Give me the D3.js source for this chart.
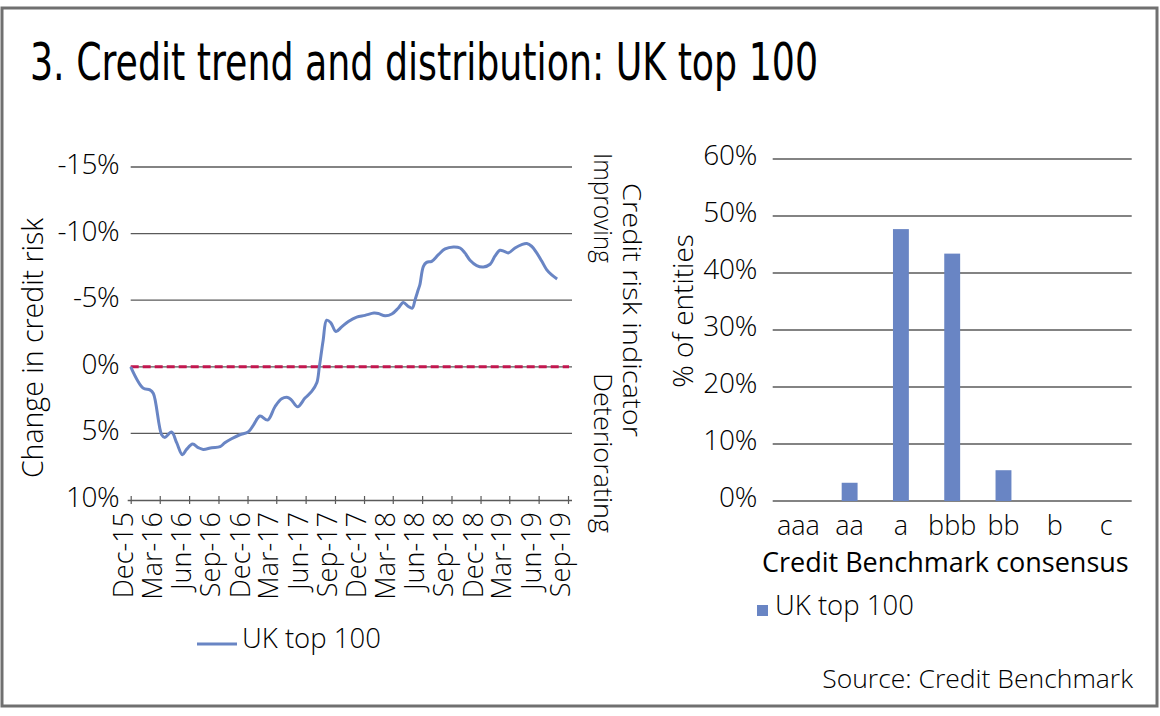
<!DOCTYPE html>
<html>
<head>
<meta charset="utf-8">
<script src="https://cdn.jsdelivr.net/npm/d3@7"></script>
<style>
  body { margin: 0; background: #fff; }
  svg { display: block; }
  text { font-family: "Open Sans", "Noto Sans", sans-serif; font-weight: 300; fill: #000; }
</style>
</head>
<body>
<svg id="chart" width="1160" height="716"></svg>
<script>
// ---------------- DATA ----------------
const trendDates = [
  "2015-12-01","2016-01-09","2016-01-30","2016-02-10","2016-03-07","2016-03-17","2016-04-07","2016-04-23",
  "2016-05-11","2016-05-24","2016-06-12","2016-06-30","2016-07-15","2016-08-11","2016-09-06","2016-09-21",
  "2016-10-12","2016-11-07","2016-12-03","2016-12-19","2017-01-09","2017-02-02","2017-02-25","2017-03-18",
  "2017-04-06","2017-04-18","2017-05-07","2017-05-30","2017-06-20","2017-07-06","2017-07-14","2017-07-26",
  "2017-08-06","2017-08-19","2017-09-04","2017-09-22","2017-10-13","2017-11-08","2017-12-04","2018-01-01",
  "2018-01-15","2018-02-05","2018-02-26","2018-03-18","2018-04-03","2018-04-19","2018-05-01","2018-05-10",
  "2018-05-20","2018-05-25","2018-06-05","2018-06-15","2018-07-01","2018-07-22","2018-08-12","2018-09-07",
  "2018-09-28","2018-10-13","2018-10-29","2018-11-19","2018-12-10","2018-12-31","2019-01-15","2019-01-31",
  "2019-02-13","2019-02-26","2019-03-19","2019-04-09","2019-04-25","2019-05-10","2019-05-26","2019-06-11",
  "2019-06-26","2019-07-12","2019-07-29"
];
// change in credit risk, % (positive = deteriorating)
const trendValues = [
  0, 1.6, 1.73, 2.0, 5.1, 5.3, 4.9, 5.7,
  6.6, 6.2, 5.8, 6.07, 6.2, 6.07, 6.0, 5.7,
  5.4, 5.1, 4.9, 4.4, 3.7, 4.0, 3.0, 2.4,
  2.3, 2.5, 3.0, 2.35, 1.85, 1.2, 0, -2.0,
  -3.5, -3.3, -2.65, -3.0, -3.4, -3.73, -3.86, -4.03,
  -4.0, -3.83, -3.96, -4.4, -4.83, -4.53, -4.4, -5.04,
  -5.8, -6.17, -7.54, -7.84, -7.92, -8.42, -8.85, -9.0,
  -8.92, -8.55, -8.0, -7.6, -7.5, -7.7, -8.3, -8.75,
  -8.67, -8.55, -8.92, -9.17, -9.25, -9.05, -8.55, -7.92,
  -7.3, -6.9, -6.6
];
const trendTickLabels = ["Dec-15","Mar-16","Jun-16","Sep-16","Dec-16","Mar-17","Jun-17","Sep-17",
  "Dec-17","Mar-18","Jun-18","Sep-18","Dec-18","Mar-19","Jun-19","Sep-19"];
const trendYTicks = [-15, -10, -5, 0, 5, 10];

const ratingCategories = ["aaa","aa","a","bbb","bb","b","c"];
const ratingShares = [0, 3.2, 47.7, 43.4, 5.4, 0, 0];
const shareYTicks = [0, 10, 20, 30, 40, 50, 60];

const seriesName = "UK top 100";
const titleText = "3. Credit trend and distribution: UK top 100";
const sourceText = "Source: Credit Benchmark";

// ---------------- STYLE ----------------
const blue = "#6985c4";
const gridColor = "#5a5a5a";
const zeroColor = "#c2174f";

const svg = d3.select("#chart");

// frame
svg.append("rect").attr("x", 2).attr("y", 8).attr("width", 1155).attr("height", 698)
  .attr("fill", "#fff").attr("stroke", "#707070").attr("stroke-width", 3);

// title
svg.append("text").attr("x", 30).attr("y", 80)
  .style("font-family", "'Liberation Sans Narrow','DejaVu Sans Condensed','Open Sans',sans-serif")
  .style("font-stretch", "condensed").style("font-weight", "400")
  .attr("font-size", 51).attr("fill", "#000")
  .attr("textLength", 788).attr("lengthAdjust", "spacingAndGlyphs")
  .text(titleText);

// ---------------- LEFT: LINE CHART ----------------
const parse = d3.timeParse("%Y-%m-%d");
const tickDates = d3.timeMonth.range(parse("2015-12-01"), parse("2019-09-02"), 3);
const xL = d3.scaleTime().domain([parse("2015-12-01"), parse("2019-09-01")]).range([130.7, 568]);
const yL = d3.scaleLinear().domain([-15, 10]).range([167, 500]);
const xEnd = 572;
const left = svg.append("g");

// gridlines
left.append("g").selectAll("line").data(trendYTicks.filter(v => v !== 10)).join("line")
  .attr("x1", xL.range()[0]).attr("x2", xEnd)
  .attr("y1", d => yL(d)).attr("y2", d => yL(d))
  .attr("stroke", gridColor).attr("stroke-width", 1.3);

// y tick labels
left.append("g").selectAll("text").data(trendYTicks).join("text")
  .attr("x", 119).attr("y", d => yL(d) + 7)
  .attr("text-anchor", "end").attr("font-size", 28).attr("letter-spacing", -0.5)
  .text(d => d + "%");

// x axis
const xAxis = d3.axisBottom(xL).tickValues(tickDates).tickSize(4).tickFormat("");
const xAxisG = left.append("g").attr("transform", `translate(0,${yL(10)})`).call(xAxis);
xAxisG.select(".domain").attr("d", `M${xL.range()[0] - 3},0.5H${xEnd}`).attr("stroke", gridColor).attr("stroke-width", 1.4);
xAxisG.selectAll(".tick line").attr("y1", -4).attr("y2", 4).attr("stroke", gridColor).attr("stroke-width", 1.2);

// x tick labels (rotated)
left.append("g").selectAll("text").data(tickDates).join("text")
  .attr("transform", (d) => `translate(${xL(d) + 2},512) rotate(-90)`)
  .attr("text-anchor", "end").attr("font-size", 27)
  .text((d, i) => trendTickLabels[i]);

// zero line
left.append("line").attr("x1", xL.range()[0]).attr("x2", 569)
  .attr("y1", yL(0)).attr("y2", yL(0))
  .attr("stroke", zeroColor).attr("stroke-width", 3).attr("stroke-dasharray", "8,4");

// line
const trend = trendDates.map((d, i) => ({ date: parse(d), v: trendValues[i] }));
left.append("path").datum(trend)
  .attr("fill", "none").attr("stroke", blue).attr("stroke-width", 3).attr("stroke-linejoin", "round")
  .attr("d", d3.line().x(d => xL(d.date)).y(d => yL(d.v)).curve(d3.curveCatmullRom.alpha(0.5)));

// y title
left.append("text").attr("transform", "translate(43,348) rotate(-90)")
  .attr("text-anchor", "middle").attr("font-size", 28.5).text("Change in credit risk");

// right side titles
left.append("text").attr("transform", "translate(623,310) rotate(90)")
  .attr("text-anchor", "middle").attr("font-size", 26)
  .attr("textLength", 254).attr("lengthAdjust", "spacingAndGlyphs").text("Credit risk indicator");
left.append("text").attr("transform", "translate(594,153) rotate(90)")
  .attr("text-anchor", "start").attr("font-size", 26)
  .attr("textLength", 110).attr("lengthAdjust", "spacingAndGlyphs").text("Improving");
left.append("text").attr("transform", "translate(594,373) rotate(90)")
  .attr("text-anchor", "start").attr("font-size", 26)
  .attr("textLength", 160).attr("lengthAdjust", "spacingAndGlyphs").text("Deteriorating");

// legend
left.append("line").attr("x1", 197).attr("x2", 237).attr("y1", 644).attr("y2", 644)
  .attr("stroke", blue).attr("stroke-width", 3);
left.append("text").attr("x", 242).attr("y", 648).attr("font-size", 27.5).text(seriesName);

// ---------------- RIGHT: BAR CHART ----------------
const xR = d3.scaleBand().domain(ratingCategories).range([772.7, 1131.7]).paddingInner(0.69).paddingOuter(0.345);
const yR = d3.scaleLinear().domain([0, 60]).range([501, 159]);
const right = svg.append("g");

right.append("g").selectAll("line").data(shareYTicks).join("line")
  .attr("x1", 772.7).attr("x2", 1131.7)
  .attr("y1", d => yR(d)).attr("y2", d => yR(d))
  .attr("stroke", gridColor).attr("stroke-width", 1.3);

right.append("g").selectAll("text").data(shareYTicks).join("text")
  .attr("x", 757).attr("y", d => yR(d) + 5.5)
  .attr("text-anchor", "end").attr("font-size", 28).attr("letter-spacing", -0.3)
  .text(d => d + "%");

right.append("g").selectAll("rect").data(ratingCategories.map((c, i) => ({ c, v: ratingShares[i] })).filter(d => d.v > 0)).join("rect")
  .attr("x", d => xR(d.c)).attr("width", xR.bandwidth())
  .attr("y", d => yR(d.v)).attr("height", d => yR(0) - yR(d.v))
  .attr("fill", blue);

right.append("g").selectAll("text").data(ratingCategories).join("text")
  .attr("x", d => xR(d) + xR.bandwidth() / 2).attr("y", 535)
  .attr("text-anchor", "middle").attr("font-size", 27).text(d => d);

right.append("text").attr("transform", "translate(693,311) rotate(-90)")
  .attr("text-anchor", "middle").attr("font-size", 28).text("% of entities");

right.append("text").attr("x", 762).attr("y", 572).attr("font-size", 27)
  .style("font-weight", "400").text("Credit Benchmark consensus");

// legend
right.append("rect").attr("x", 757).attr("y", 605).attr("width", 11).attr("height", 11).attr("fill", blue);
right.append("text").attr("x", 775).attr("y", 615).attr("font-size", 27.5).text(seriesName);

// source
svg.append("text").attr("x", 1133).attr("y", 688).attr("text-anchor", "end")
  .attr("font-size", 26.5).text(sourceText);
</script>
</body>
</html>
